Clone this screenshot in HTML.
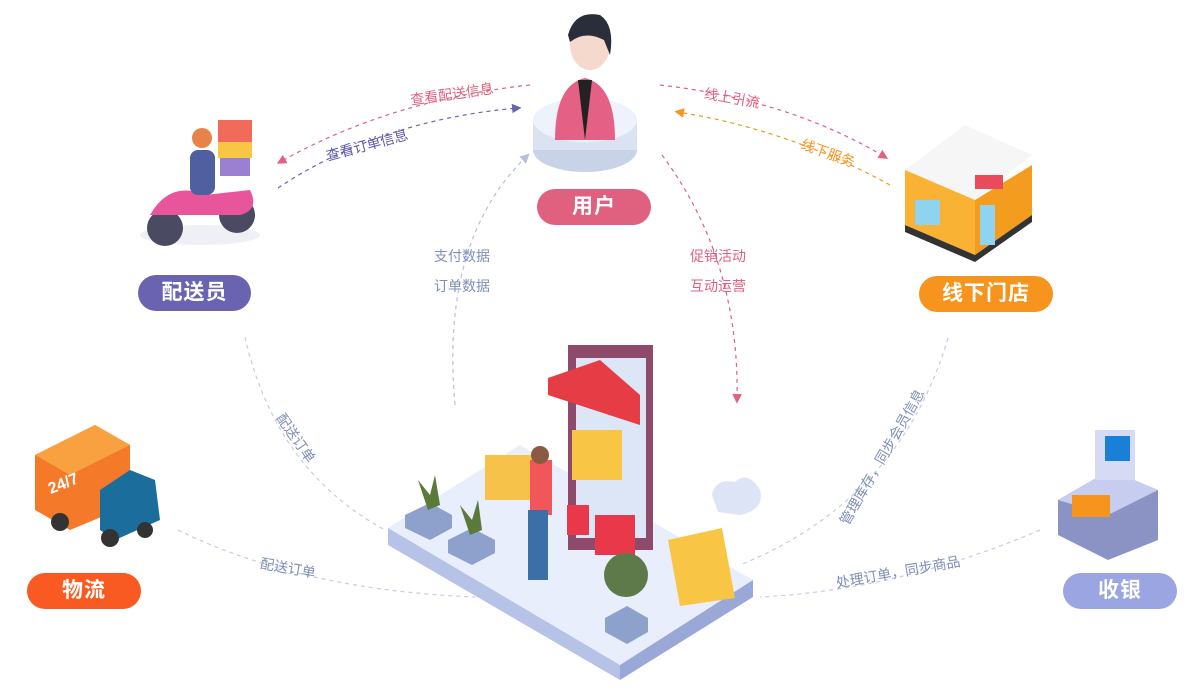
<!DOCTYPE html>
<html><head><meta charset="utf-8"><style>
html,body{margin:0;padding:0;background:#fff;}
body{width:1202px;height:700px;position:relative;overflow:hidden;font-family:"Liberation Sans","Noto Sans CJK SC",sans-serif;}
.pill{position:absolute;height:36px;border-radius:18px;color:#fff;font-size:21px;font-weight:bold;text-align:center;line-height:36px;letter-spacing:1px}
.lb{position:absolute;font-size:14px;white-space:nowrap;transform-origin:center}
</style></head><body>
<svg width="1202" height="700" style="position:absolute;left:0;top:0">
<defs>
<marker id="ap" markerWidth="8" markerHeight="8" refX="5" refY="4" orient="auto"><path d="M0,0 L8,4 L0,8z" fill="#e0617f"/></marker>
<marker id="au" markerWidth="8" markerHeight="8" refX="5" refY="4" orient="auto"><path d="M0,0 L8,4 L0,8z" fill="#6a64b0"/></marker>
<marker id="ao" markerWidth="8" markerHeight="8" refX="5" refY="4" orient="auto"><path d="M0,0 L8,4 L0,8z" fill="#f7941d"/></marker>
<marker id="ag" markerWidth="8" markerHeight="8" refX="5" refY="4" orient="auto"><path d="M0,0 L8,4 L0,8z" fill="#b5bfdc"/></marker>
</defs>
<g fill="none" stroke-width="1.2" stroke-dasharray="4,4">
<path d="M530,85 Q390,100 280,162" stroke="#e0617f" marker-end="url(#ap)"/>
<path d="M278,188 Q380,120 518,108" stroke="#6a64b0" marker-end="url(#au)"/>
<path d="M660,85 Q790,100 885,157" stroke="#e0617f" marker-end="url(#ap)"/>
<path d="M890,185 Q790,130 678,112" stroke="#f7941d" marker-end="url(#ao)"/>
<path d="M455,405 Q440,240 527,156" stroke="#b5bfdc" marker-end="url(#ag)"/>
<path d="M662,155 Q740,260 737,400" stroke="#e0617f" marker-end="url(#ap)"/>
<path d="M245,337 Q275,470 385,530" stroke="#c5cce3"/>
<path d="M178,530 Q300,590 475,597" stroke="#c5cce3"/>
<path d="M948,338 Q900,500 740,565" stroke="#c5cce3"/>
<path d="M1040,530 Q900,590 760,597" stroke="#c5cce3"/>
</g>
<ellipse cx="585" cy="150" rx="52" ry="22" fill="#c9d3e8"/>
<rect x="533" y="120" width="104" height="30" fill="#dbe3f2"/>
<ellipse cx="585" cy="120" rx="52" ry="22" fill="#eef2fa"/>
<path d="M555,140 Q555,85 585,78 Q615,85 615,140z" fill="#e56085"/>
<path d="M578,80 L585,140 L592,80z" fill="#222"/>
<ellipse cx="590" cy="45" rx="20" ry="25" fill="#f4d9cc"/>
<path d="M568,35 Q575,10 600,15 Q615,25 610,55 L604,40 Q585,30 570,42z" fill="#2a2d3a"/>
<ellipse cx="200" cy="235" rx="60" ry="10" fill="#eef0f6"/>
<circle cx="165" cy="228" r="18" fill="#4a4a62"/><circle cx="237" cy="215" r="18" fill="#4a4a62"/>
<path d="M150,215 Q170,180 205,195 L250,190 Q260,210 240,215z" fill="#e8559a"/>
<rect x="190" y="150" width="25" height="45" rx="8" fill="#4f5fa0"/>
<circle cx="202" cy="138" r="10" fill="#e8824a"/>
<rect x="218" y="120" width="34" height="22" fill="#f26a5a"/><rect x="218" y="142" width="34" height="16" fill="#f9c544"/><rect x="220" y="158" width="30" height="18" fill="#9b7fd0"/>
<polygon points="905,170 965,125 1032,155 975,200" fill="#f6f6f6"/>
<polygon points="905,170 975,200 975,255 905,225" fill="#f9b233"/>
<polygon points="975,200 1032,165 1032,215 975,255" fill="#f39c1e"/>
<polygon points="905,225 975,255 1032,215 1032,222 975,262 905,232" fill="#333"/>
<rect x="915" y="200" width="25" height="25" fill="#8ed3f0"/><rect x="980" y="205" width="15" height="40" fill="#8ed3f0"/>
<rect x="975" y="175" width="28" height="14" fill="#e94b5a"/>
<polygon points="35,455 95,425 130,445 130,505 70,530 35,510" fill="#f47a2a"/>
<polygon points="35,455 95,425 130,445 70,475" fill="#f9a040"/>
<polygon points="100,490 130,470 155,480 160,520 115,540 100,530" fill="#1b6e9c"/>
<circle cx="60" cy="522" r="9" fill="#333"/><circle cx="110" cy="538" r="9" fill="#333"/><circle cx="145" cy="530" r="8" fill="#333"/>
<text x="48" y="490" font-size="16" font-weight="bold" fill="#fff" transform="rotate(-22 60 485)" font-family="Liberation Sans">24/7</text>
<polygon points="1058,500 1110,470 1158,490 1158,540 1108,560 1058,535" fill="#8a93c4"/>
<polygon points="1058,500 1110,470 1158,490 1108,515" fill="#c7cdee"/>
<rect x="1095" y="430" width="40" height="50" fill="#d6dbf3"/><rect x="1105" y="436" width="25" height="25" fill="#1a7fd6"/>
<rect x="1072" y="495" width="38" height="22" fill="#f7941d"/>
<polygon points="388,528 520,445 753,580 620,665" fill="#e8eefb"/>
<polygon points="388,528 620,665 620,680 388,545" fill="#b6c2e6"/>
<polygon points="620,665 753,580 753,597 620,680" fill="#9aa8d8"/>
<rect x="568" y="345" width="85" height="205" fill="#8d4a6a"/><rect x="576" y="358" width="70" height="180" fill="#dde6f6"/>
<polygon points="548,378 600,360 640,395 640,425 548,395" fill="#e63c45"/>
<rect x="572" y="430" width="50" height="50" fill="#f9c544"/>
<polygon points="668,540 722,528 735,598 680,606" fill="#f9c544"/>
<rect x="485" y="455" width="55" height="45" fill="#f6c24a"/>
<rect x="530" y="460" width="22" height="55" fill="#f0565a"/>
<rect x="528" y="510" width="20" height="70" fill="#3c6ea8"/>
<circle cx="540" cy="455" r="9" fill="#8a5a44"/>
<rect x="595" y="515" width="40" height="40" fill="#e8384a"/>
<rect x="567" y="505" width="22" height="30" fill="#e8384a"/>
<polygon points="405,515 430,503 452,515 452,528 430,540 405,528" fill="#8ea0cc"/>
<path d="M428,510 L418,480 L430,495 L435,475 L440,505z" fill="#5a7a3a"/>
<polygon points="448,540 472,528 495,540 495,553 472,565 448,553" fill="#8ea0cc"/>
<path d="M470,535 L460,505 L472,520 L478,500 L482,530z" fill="#5a7a3a"/>
<polygon points="605,618 627,606 648,618 648,632 627,644 605,632" fill="#8ea0cc"/>
<circle cx="626" cy="575" r="22" fill="#5e7a4a"/>
<path d="M712,495 Q715,478 735,482 Q748,470 760,490 Q765,510 740,515 L718,512z" fill="#dce4f6"/>
</svg>
<div class="pill" style="left:537px;top:189px;width:114px;background:#e0617f">用户</div>
<div class="pill" style="left:138px;top:275px;width:113px;background:#6a64b0">配送员</div>
<div class="pill" style="left:919px;top:276px;width:134px;background:#f7941d">线下门店</div>
<div class="pill" style="left:27px;top:573px;width:114px;background:#f95a22">物流</div>
<div class="pill" style="left:1063px;top:573px;width:114px;background:#9aa5e2">收银</div>
<div class="lb" style="left:410px;top:84px;color:#e0617f;transform:rotate(-8deg)">查看配送信息</div>
<div class="lb" style="left:325px;top:135px;color:#5e58a8;transform:rotate(-15deg)">查看订单信息</div>
<div class="lb" style="left:704px;top:88px;color:#e0617f;transform:rotate(10deg)">线上引流</div>
<div class="lb" style="left:800px;top:143px;color:#f7941d;transform:rotate(20deg)">线下服务</div>
<div class="lb" style="left:434px;top:246px;color:#7f8fb5">支付数据</div>
<div class="lb" style="left:434px;top:276px;color:#7f8fb5">订单数据</div>
<div class="lb" style="left:690px;top:246px;color:#e0617f">促销活动</div>
<div class="lb" style="left:690px;top:276px;color:#e0617f">互动运营</div>
<div class="lb" style="left:268px;top:428px;color:#7f8fb5;transform:rotate(55deg)">配送订单</div>
<div class="lb" style="left:260px;top:558px;color:#7f8fb5;transform:rotate(10deg)">配送订单</div>
<div class="lb" style="left:805px;top:447px;color:#7f8fb5;transform:rotate(-60deg)">管理库存，同步会员信息</div>
<div class="lb" style="left:835px;top:562px;color:#7f8fb5;transform:rotate(-10deg)">处理订单，同步商品</div>
</body></html>
